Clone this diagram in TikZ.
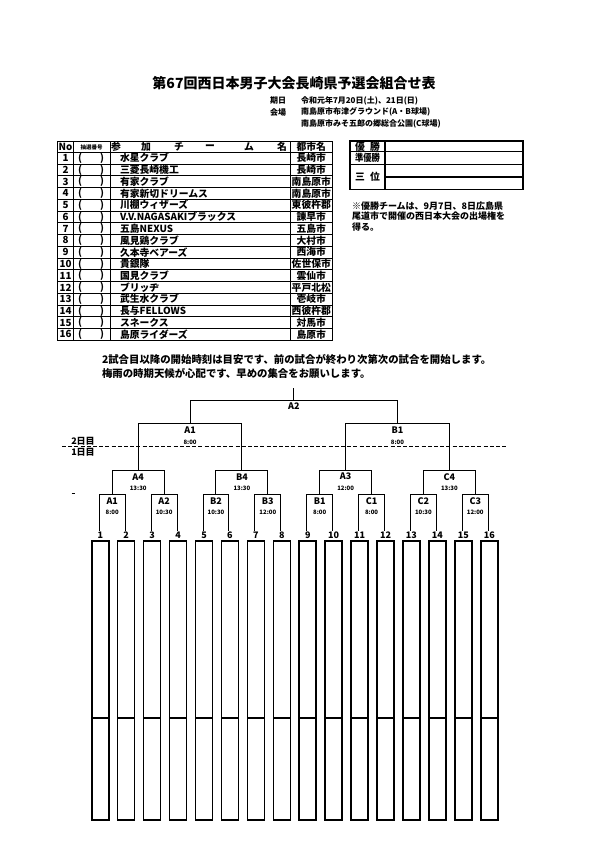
\documentclass[tikz,border=0pt]{standalone}
\usepackage{fontspec}
\setmainfont{Noto Sans CJK JP}[BoldFont={Noto Sans CJK JP Black}]
\usetikzlibrary{calc}
\begin{document}
\begin{tikzpicture}[x=1pt,y=-1pt,
  every node/.style={inner sep=0pt,outer sep=0pt,font=\bfseries},
  tline/.style={line width=0.9pt},
  tbold/.style={line width=1.4pt},
  txt/.style={font=\fontsize{9.8}{11}\selectfont\bfseries},
  small/.style={font=\fontsize{8}{10}\selectfont\bfseries},
  note/.style={font=\fontsize{10.4}{12}\selectfont\bfseries},
  brk/.style={line width=1pt},
  lbl/.style={font=\fontsize{9}{10}\selectfont\bfseries},
  tim/.style={font=\fontsize{6}{7}\selectfont\bfseries},
  slotbox/.style={line width=1.5pt}]
\useasboundingbox (0,0) rectangle (595,842);
\fill[white] (0,0) rectangle (595,842);

% title
\node[font=\fontsize{14}{16}\selectfont\bfseries] (title) at (294,83) {第67回西日本男子大会長崎県予選会組合せ表};
\node[small,anchor=west] (kijitsu) at (270,100.5) {期日};
\node[small,anchor=west] (kaijo) at (270,112) {会場};
\node[small,anchor=west] (date) at (301,100.5) {令和元年7月20日(土)、21日(日)};
\node[small,anchor=west] (venue1) at (301,112) {南島原市布津グラウンド(A・B球場)};
\node[small,anchor=west] (venue2) at (301,123.5) {南島原市みそ五郎の郷総合公園(C球場)};

% entry table
\def\RH{11.75}
\draw[tbold] (57.7,141.5) rectangle (332.7,{152.3+16*\RH});
\foreach \i in {0,...,15} \draw[tline] (57.7,{152.3+\i*\RH}) -- (332.7,{152.3+\i*\RH});
\foreach \xx in {73.3,110,290} \draw[tline] (\xx,141.5) -- (\xx,{152.3+16*\RH});
\node[txt] (hno) at (65.5,147) {No};
\node[font=\fontsize{5.5}{6}\selectfont\bfseries] (hdraw) at (91.6,147) {抽選番号};
\node[txt] (h1) at (116,147) {参};
\node[txt] (h2) at (146,147) {加};
\node[txt] (h3) at (179,147) {チ};
\node[txt] (h4) at (210,147) {ー};
\node[txt] (h5) at (249,147) {ム};
\node[txt] (h6) at (282,147) {名};
\node[txt] (hcity) at (311.3,147) {都市名};
\foreach \i/\team/\city in {
  1/水星クラブ/長崎市,
  2/三菱長崎機工/長崎市,
  3/有家クラブ/南島原市,
  4/有家新切ドリームス/南島原市,
  5/川棚ウィザーズ/東彼杵郡,
  6/V.V.NAGASAKIブラックス/諫早市,
  7/五島NEXUS/五島市,
  8/風見鶏クラブ/大村市,
  9/久本寺ベアーズ/西海市,
  10/貴銀隊/佐世保市,
  11/国見クラブ/雲仙市,
  12/ブリッヂ/平戸北松,
  13/武生水クラブ/壱岐市,
  14/長与FELLOWS/西彼杵郡,
  15/スネークス/対馬市,
  16/島原ライダーズ/島原市} {
  \pgfmathsetmacro\yy{152.3+(\i-0.5)*\RH}
  \node[txt] (no\i) at (65.5,\yy) {\i};
  \node[txt] (lp\i) at (80,\yy) {(};
  \node[txt] (rp\i) at (102,\yy) {)};
  \node[txt,anchor=west] (team\i) at (120,\yy) {\team};
  \node[txt] (city\i) at (311.3,\yy) {\city};
}

% result table
\draw[tbold] (350,141) rectangle (523,189.5);
\draw[tbold] (350,151.7) -- (523,151.7);
\draw[tbold] (350,164.5) -- (523,164.5);
\draw[tbold] (385,177) -- (523,177);
\draw[tbold] (385,141) -- (385,189.5);
\node[txt] (win) at (367.5,146.5) {優\hspace{5pt}勝};
\node[txt,xscale=0.85] (second) at (367.5,158) {準優勝};
\node[txt] (third) at (367.5,177) {三\hspace{5pt}位};

\node[font=\fontsize{9}{10.5}\selectfont\bfseries,anchor=north west,align=left] (remark) at (352,201.5)
  {※優勝チームは、9月7日、8日広島県\\尾道市で開催の西日本大会の出場権を\\得る。};

% notes
\node[note,anchor=west] (note1) at (102,359) {2試合目以降の開始時刻は目安です、前の試合が終わり次第次の試合を開始します。};
\node[note,anchor=west] (note2) at (102,373) {梅雨の時期天候が心配です、早めの集合をお願いします。};

% day divider
\coordinate (dl) at (62,446.7);
\coordinate (dr) at (507,446.7);
\draw[line width=1.3pt,dash pattern=on 4pt off 2.2pt] (dl) -- (dr);
\node[lbl] (day2) at (83,441.5) {2日目};
\node[lbl] (day1) at (83,452.5) {1日目};
\draw[line width=0.6pt] (71.5,493.5) -- (74.5,493.5);

% bracket
\foreach \i in {1,...,16} {
  \pgfmathsetmacro\xx{99.3+(\i-1)*25.93}
  \coordinate (t\i) at (\xx,494.3);
  \coordinate (b\i) at (\xx,530.5);
  \node[lbl] (n\i) at (\xx+1,535.5) {\i};
  \draw[slotbox] (\xx+1-8.5,541) rectangle (\xx+1+8.5,820);
  \draw[slotbox] (\xx+1-8.5,718) -- (\xx+1+8.5,718);
}
% first round
\foreach \k/\lab/\tm in {1/A1/8:00,2/A2/10:30,3/B2/10:30,4/B3/12:00,5/B1/8:00,6/C1/8:00,7/C2/10:30,8/C3/12:00} {
  \pgfmathtruncatemacro\a{2*\k-1}
  \pgfmathtruncatemacro\b{2*\k}
  \draw[brk] (b\a) -- (t\a) -- (t\b) -- (b\b);
  \coordinate (r\k) at ($(t\a)!0.5!(t\b)$);
  \node[lbl] (r\k l) at ($(r\k)+(0,6.6)$) {\lab};
  \node[tim] (r\k t) at ($(r\k)+(0,18)$) {\tm};
}
% quarter finals
\foreach \k/\lab/\tm in {1/A4/13:30,2/B4/13:30,3/A3/12:00,4/C4/13:30} {
  \pgfmathtruncatemacro\a{2*\k-1}
  \pgfmathtruncatemacro\b{2*\k}
  \coordinate (qa\k) at ($(r\a)+(0,-24.3)$);
  \coordinate (qb\k) at ($(r\b)+(0,-24.3)$);
  \draw[brk] (r\a) -- (qa\k) -- (qb\k) -- (r\b);
  \coordinate (q\k) at ($(qa\k)!0.5!(qb\k)$);
  \node[lbl] (q\k l) at ($(q\k)+(0,6.7)$) {\lab};
  \node[tim] (q\k t) at ($(q\k)+(0,18.3)$) {\tm};
}
% semi finals
\foreach \k/\lab/\tm in {1/A1/8:00,2/B1/8:00} {
  \pgfmathtruncatemacro\a{2*\k-1}
  \pgfmathtruncatemacro\b{2*\k}
  \coordinate (sa\k) at ($(q\a)+(0,-46.7)$);
  \coordinate (sb\k) at ($(q\b)+(0,-46.7)$);
  \draw[brk] (q\a) -- (sa\k) -- (sb\k) -- (q\b);
  \coordinate (s\k) at ($(sa\k)!0.5!(sb\k)$);
  \node[lbl] (s\k l) at ($(s\k)+(0,6.7)$) {\lab};
  \node[tim] (s\k t) at ($(s\k)+(0,19)$) {\tm};
}
% final
\coordinate (fa) at ($(s1)+(0,-23.3)$);
\coordinate (fb) at ($(s2)+(0,-23.3)$);
\draw[brk] (s1) -- (fa) -- (fb) -- (s2);
\coordinate (f) at ($(fa)!0.5!(fb)$);
\coordinate (ftop) at ($(f)+(0,-12)$);
\draw[brk] (f) -- (ftop);
\node[lbl] (fl) at ($(f)+(0,6.5)$) {A2};
\end{tikzpicture}
\end{document}
